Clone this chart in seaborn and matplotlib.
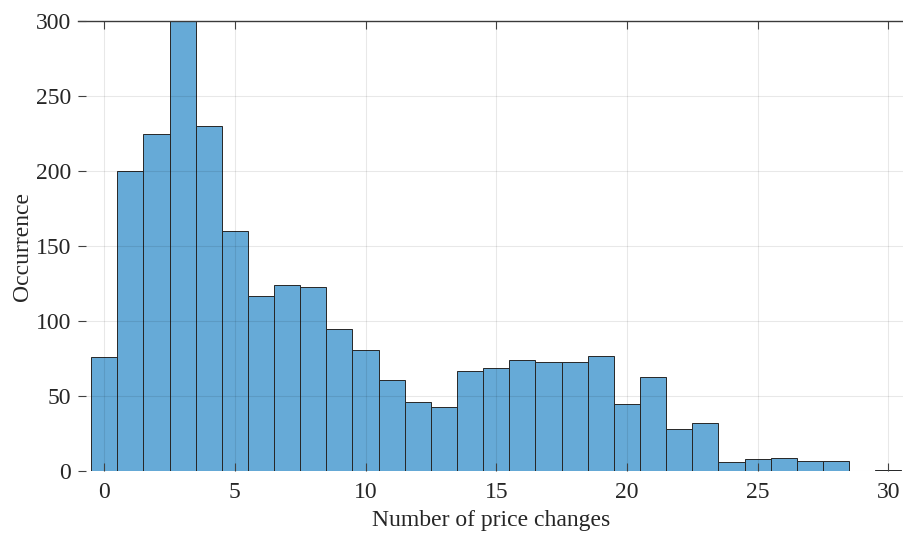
"""
Histogram of the number of price changes (MATLAB-style look)
"""
import matplotlib
matplotlib.use("Agg")
import matplotlib.pyplot as plt
import seaborn as sns
import numpy as np

# Bin centres and counts
price_changes = list(range(0, 31))
occurrences = [76, 200, 225, 300, 230, 160, 117, 124, 123, 95,
               81, 61, 46, 43, 67, 69, 74, 73, 73, 77,
               45, 63, 28, 32, 6, 8, 9, 7, 7, 0,
               1]

x_ticks = [0, 5, 10, 15, 20, 25, 30]
y_ticks = [0, 50, 100, 150, 200, 250, 300]

sns.set_style("white")
plt.rcParams['font.family'] = ['Liberation Serif', 'DejaVu Serif']

fig = plt.figure(figsize=(9.04, 5.33), dpi=100)
ax = fig.add_axes([0.0863, 0.1163, 0.9137, 0.8443])

sns.histplot(x=price_changes, weights=occurrences, discrete=True,
             color='#66aad7', alpha=1.0, edgecolor='#262626', linewidth=0.7,
             ax=ax)

ax.set_xlim(-1, 30.6)
ax.set_ylim(0, 300)
ax.set_xticks(x_ticks)
ax.set_yticks(y_ticks)

# Grid drawn over the bars, faint like MATLAB
ax.set_axisbelow(False)
ax.grid(True, color='black', alpha=0.09, linewidth=0.8)

for side in ['left', 'right', 'bottom']:
    ax.spines[side].set_visible(False)
ax.spines['top'].set_visible(True)
ax.spines['top'].set_color('#404040')
ax.spines['top'].set_linewidth(1.0)

ax.tick_params(axis='both', direction='in', length=6, width=0.8,
               color='#404040', labelsize=17, labelcolor='#262626',
               top=True, bottom=True, left=True, right=False,
               labeltop=False)
ax.tick_params(axis='x', pad=8)
ax.tick_params(axis='y', pad=5)

ax.set_xlabel('Number of price changes', fontsize=17, color='#262626', labelpad=5)
ax.set_ylabel('Occurrence', fontsize=17, color='#262626', labelpad=2)

plt.savefig('out.png', dpi=100)
plt.close()
